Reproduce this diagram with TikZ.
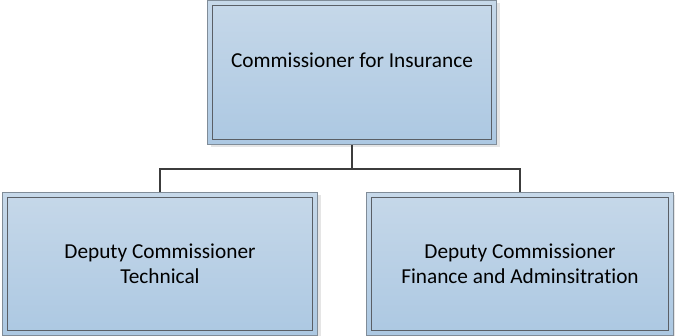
\documentclass[tikz,border=0pt]{standalone}
\usepackage{fontspec}
\setmainfont{Carlito}[Ligatures=NoCommon]
\usetikzlibrary{shadows}
\definecolor{ctop}{HTML}{C6D8E9}
\definecolor{cbot}{HTML}{ACC8E2}
\definecolor{outerc}{HTML}{808C98}
\definecolor{innerc}{HTML}{5A5F66}
\definecolor{connc}{HTML}{3C3C3C}
\begin{document}
\begin{tikzpicture}[x=1pt,y=1pt,
  box/.style={rectangle, draw=outerc, line width=0.9pt, top color=ctop, bottom color=cbot,
    inner sep=0pt, align=center, font=\fontsize{21.3}{25}\selectfont,
    drop shadow={shadow xshift=3pt, shadow yshift=-3pt, fill=black, opacity=0.1},
    path picture={\draw[innerc, line width=1.3pt]
      ([shift={(5pt,-5pt)}]path picture bounding box.north west) rectangle
      ([shift={(-5pt,5pt)}]path picture bounding box.south east);}},
  conn/.style={draw=connc, line width=2.4pt}]
\useasboundingbox (0,0) rectangle (675,-336);
\fill[white] (0,0) rectangle (675,-336);
\node[box, minimum width=289, minimum height=144, text depth=24pt] (top) at (352,-72.5) {Commissioner for Insurance};
\node[box, minimum width=315, minimum height=143] (left) at (160,-264) {Deputy Commissioner\\Technical};
\node[box, minimum width=307, minimum height=143] (right) at (520,-264) {Deputy Commissioner\\Finance and Adminsitration};
\coordinate (j) at (352,-169);
\draw[conn] (top.south) -- (j);
\draw[conn] (left.north) |- (j) -| (right.north);
\end{tikzpicture}
\end{document}
